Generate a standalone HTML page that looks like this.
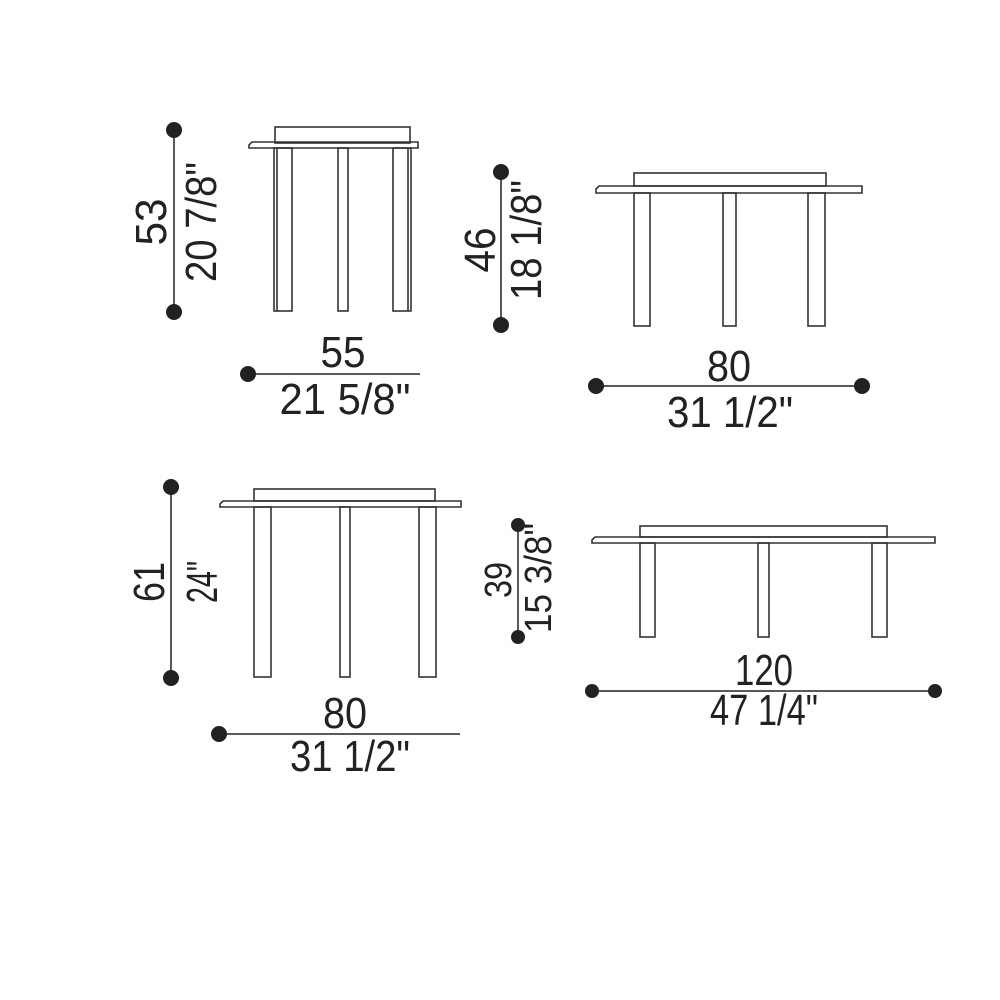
<!DOCTYPE html><html><head><style>body{margin:0;background:#fff}svg{display:block}text{font-family:"Liberation Sans",sans-serif;fill:#222}</style></head><body>
<svg width="1000" height="1000" viewBox="0 0 1000 1000" xmlns="http://www.w3.org/2000/svg">
<g fill="none" stroke="#333" stroke-width="1.6">
<rect x="275" y="127" width="135" height="16"/>
<path d="M252 142 L418 142 L418 148 L249 148 L249 145 Z"/>
<rect x="274" y="148" width="18" height="163"/><line x1="277" y1="148" x2="277" y2="311"/>
<rect x="338" y="148" width="10" height="163"/>
<rect x="393" y="148" width="18" height="163"/><line x1="408" y1="148" x2="408" y2="311"/>
<rect x="634" y="173" width="192" height="13"/>
<path d="M599 186 L862 186 L862 193 L596 193 L596 189 Z"/>
<rect x="634" y="193" width="16" height="133"/>
<rect x="723" y="193" width="13" height="133"/>
<rect x="808" y="193" width="17" height="133"/>
<rect x="254" y="489" width="181" height="12"/>
<path d="M223 501 L461 501 L461 507 L220 507 L220 504 Z"/>
<rect x="254" y="507" width="17" height="170"/>
<rect x="340" y="507" width="10" height="170"/>
<rect x="419" y="507" width="17" height="170"/>
<rect x="640" y="526" width="247" height="11"/>
<path d="M595 537 L935 537 L935 543 L592 543 L592 540 Z"/>
<rect x="640" y="543" width="15" height="94"/>
<rect x="758" y="543" width="11" height="94"/>
<rect x="872" y="543" width="15" height="94"/>
</g>
<g stroke="#222" stroke-width="1.5">
<line x1="174" y1="130" x2="174" y2="312"/><line x1="248" y1="374" x2="420" y2="374"/>
<line x1="501" y1="172" x2="501" y2="325"/><line x1="596" y1="386" x2="862" y2="386"/>
<line x1="171" y1="487" x2="171" y2="678"/><line x1="219" y1="734" x2="460" y2="734"/>
<line x1="518" y1="525" x2="518" y2="637"/><line x1="592" y1="691" x2="935" y2="691"/>
</g>
<g fill="#222">
<circle cx="174" cy="130" r="8"/><circle cx="174" cy="312" r="8"/><circle cx="248" cy="374" r="8"/>
<circle cx="501" cy="172" r="8"/><circle cx="501" cy="325" r="8"/><circle cx="596" cy="386" r="8"/><circle cx="862" cy="386" r="8"/>
<circle cx="171" cy="487" r="8"/><circle cx="171" cy="678" r="8"/><circle cx="219" cy="734" r="8"/>
<circle cx="518" cy="525" r="7"/><circle cx="518" cy="637" r="7"/><circle cx="592" cy="691" r="7"/><circle cx="935" cy="691" r="7"/>
</g>
<g font-size="44" text-anchor="middle">
<text x="343" y="367" textLength="45" lengthAdjust="spacingAndGlyphs">55</text>
<text x="345" y="414" textLength="131" lengthAdjust="spacingAndGlyphs">21 5/8"</text>
<text x="729" y="381" textLength="44" lengthAdjust="spacingAndGlyphs">80</text>
<text x="730" y="427" textLength="126" lengthAdjust="spacingAndGlyphs">31 1/2"</text>
<text x="345" y="728" textLength="44" lengthAdjust="spacingAndGlyphs">80</text>
<text x="350" y="771" textLength="120" lengthAdjust="spacingAndGlyphs">31 1/2"</text>
<text x="764" y="685" textLength="58" lengthAdjust="spacingAndGlyphs">120</text>
<text x="764" y="725" textLength="108" lengthAdjust="spacingAndGlyphs">47 1/4"</text>
<text transform="translate(166,222) rotate(-90)" textLength="47" lengthAdjust="spacingAndGlyphs">53</text>
<text transform="translate(216,222) rotate(-90)" textLength="120" lengthAdjust="spacingAndGlyphs">20 7/8"</text>
<text transform="translate(495,250) rotate(-90)" textLength="45" lengthAdjust="spacingAndGlyphs">46</text>
<text transform="translate(541,240) rotate(-90)" textLength="120" lengthAdjust="spacingAndGlyphs">18 1/8"</text>
<text transform="translate(164,582) rotate(-90)" textLength="40" lengthAdjust="spacingAndGlyphs">61</text>
<text transform="translate(217,582) rotate(-90)" textLength="42" lengthAdjust="spacingAndGlyphs">24"</text>
</g>
<g font-size="38" text-anchor="middle">
<text transform="translate(511,580) rotate(-90)" textLength="36" lengthAdjust="spacingAndGlyphs">39</text>
<text transform="translate(551,578) rotate(-90)" textLength="110" lengthAdjust="spacingAndGlyphs">15 3/8"</text>
</g>
</svg></body></html>
